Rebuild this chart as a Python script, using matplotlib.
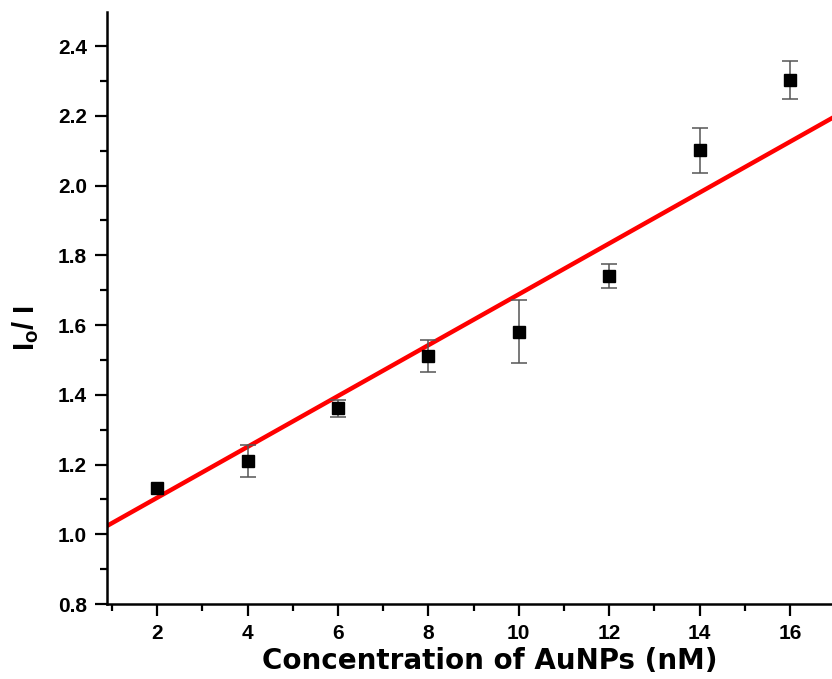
import matplotlib
matplotlib.use("Agg")
import matplotlib.pyplot as plt
from matplotlib.ticker import MultipleLocator

plt.rcParams['font.family'] = ['Liberation Sans', 'DejaVu Sans']
plt.rcParams['mathtext.fontset'] = 'custom'
plt.rcParams['mathtext.rm'] = 'Liberation Sans:bold'
plt.rcParams['mathtext.bf'] = 'Liberation Sans:bold'

conc = [2, 4, 6, 8, 10, 12, 14, 16]
ratio = [1.132, 1.210, 1.361, 1.511, 1.581, 1.740, 2.101, 2.302]
err = [float('nan'), 0.045, 0.025, 0.045, 0.091, 0.035, 0.064, 0.054]
fit_slope = 0.0729
fit_intercept = 0.959

fig = plt.figure(figsize=(8.32, 6.79), dpi=100)
ax = fig.add_axes([107/832, 1-604/679, 1-107/832, (604-12)/679])

ax.axline((0, fit_intercept), slope=fit_slope, color='#ff0000', lw=3.2, zorder=2)
ax.errorbar(conc, ratio, yerr=err, fmt='s', color='black', ms=8,
            ecolor='#555555', elinewidth=1.1, capsize=6, capthick=1.1, zorder=3)

ax.set_xlim(0.89, 16.93)
ax.set_ylim(0.8, 2.4975)
ax.xaxis.set_major_locator(MultipleLocator(2))
ax.xaxis.set_minor_locator(MultipleLocator(1))
ax.yaxis.set_major_locator(MultipleLocator(0.2))
ax.yaxis.set_minor_locator(MultipleLocator(0.1))
ax.yaxis.set_major_formatter(plt.FuncFormatter(lambda v, p: f"{v:.1f}"))

for s in ['top', 'right']:
    ax.spines[s].set_visible(False)
for s in ['left', 'bottom']:
    ax.spines[s].set_linewidth(1.8)

ax.tick_params(which='major', direction='out', length=8.5, width=1.6,
               labelsize=15, pad=6)
ax.tick_params(which='minor', direction='out', length=5, width=1.6)
for lab in ax.get_xticklabels() + ax.get_yticklabels():
    lab.set_fontweight('bold')

ax.set_xlabel('Concentration of AuNPs (nM)', fontsize=20, fontweight='bold',
              family='DejaVu Sans', labelpad=3)
ax.xaxis.label.set_x((490 - 107) / 725)
ax.set_ylabel(r'$\mathbf{I_o}$/ I', fontsize=21, fontweight='bold', labelpad=12)
ax.yaxis.label.set_y((604 - 328) / 592)

fig.savefig('out.png', dpi=100)
